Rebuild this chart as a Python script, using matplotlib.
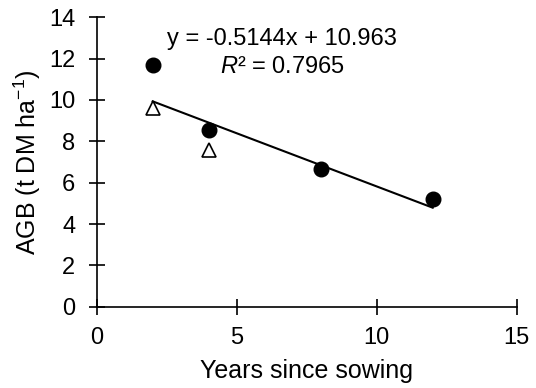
import numpy as np
import matplotlib
matplotlib.use("Agg")
from matplotlib import pyplot as plt

plt.rcParams['font.family'] = ['Liberation Sans', 'DejaVu Sans']
plt.rcParams['mathtext.fontset'] = 'custom'
plt.rcParams['mathtext.rm'] = 'Liberation Sans'
plt.rcParams['mathtext.it'] = 'Liberation Sans:italic'

# data
years_circle = [2, 4, 8, 12]
agb_circle = [11.7, 8.55, 6.65, 5.2]
years_triangle = [2, 4]
agb_triangle = [9.6, 7.6]
slope = -0.5144
intercept = 10.963
r2 = 0.7965
fit_range = [2, 12]

fig = plt.figure(figsize=(5.36, 3.88), dpi=100)
ax = fig.add_axes([0.1804, 0.2095, 0.7836, 0.7459])

fit_x = np.array(fit_range)
ax.plot(fit_x, slope * fit_x + intercept, color='black', lw=1.5, zorder=2)
ax.plot(years_circle, agb_circle, 'o', color='black', ms=10.5, zorder=3, clip_on=False)
ax.plot(years_triangle, agb_triangle, '^', mfc='white', mec='black', mew=1.2, ms=10, zorder=3, clip_on=False)

ax.text(6.6, 12.95, 'y = -0.5144x + 10.963', ha='center', va='center', fontsize=17)
ax.text(6.65, 11.6, '$\\it{R}$² = 0.7965', ha='center', va='center', fontsize=17)

ax.set_xlim(0, 15)
ax.set_ylim(0, 14)
ax.set_xticks([0, 5, 10, 15])
ax.set_yticks(range(0, 15, 2))
for s in ['top', 'right']:
    ax.spines[s].set_visible(False)
for s in ['left', 'bottom']:
    ax.spines[s].set_linewidth(1.2)
ax.tick_params(direction='inout', length=11, width=1.2, labelsize=17)
ax.tick_params(axis='y', pad=10)
ax.tick_params(axis='x', pad=9)

ax.set_xlabel('Years since sowing', fontsize=18, labelpad=7)
ax.set_ylabel('AGB (t DM ha$^{-1}$)', fontsize=18, labelpad=4)

fig.savefig('out.png', dpi=100)
